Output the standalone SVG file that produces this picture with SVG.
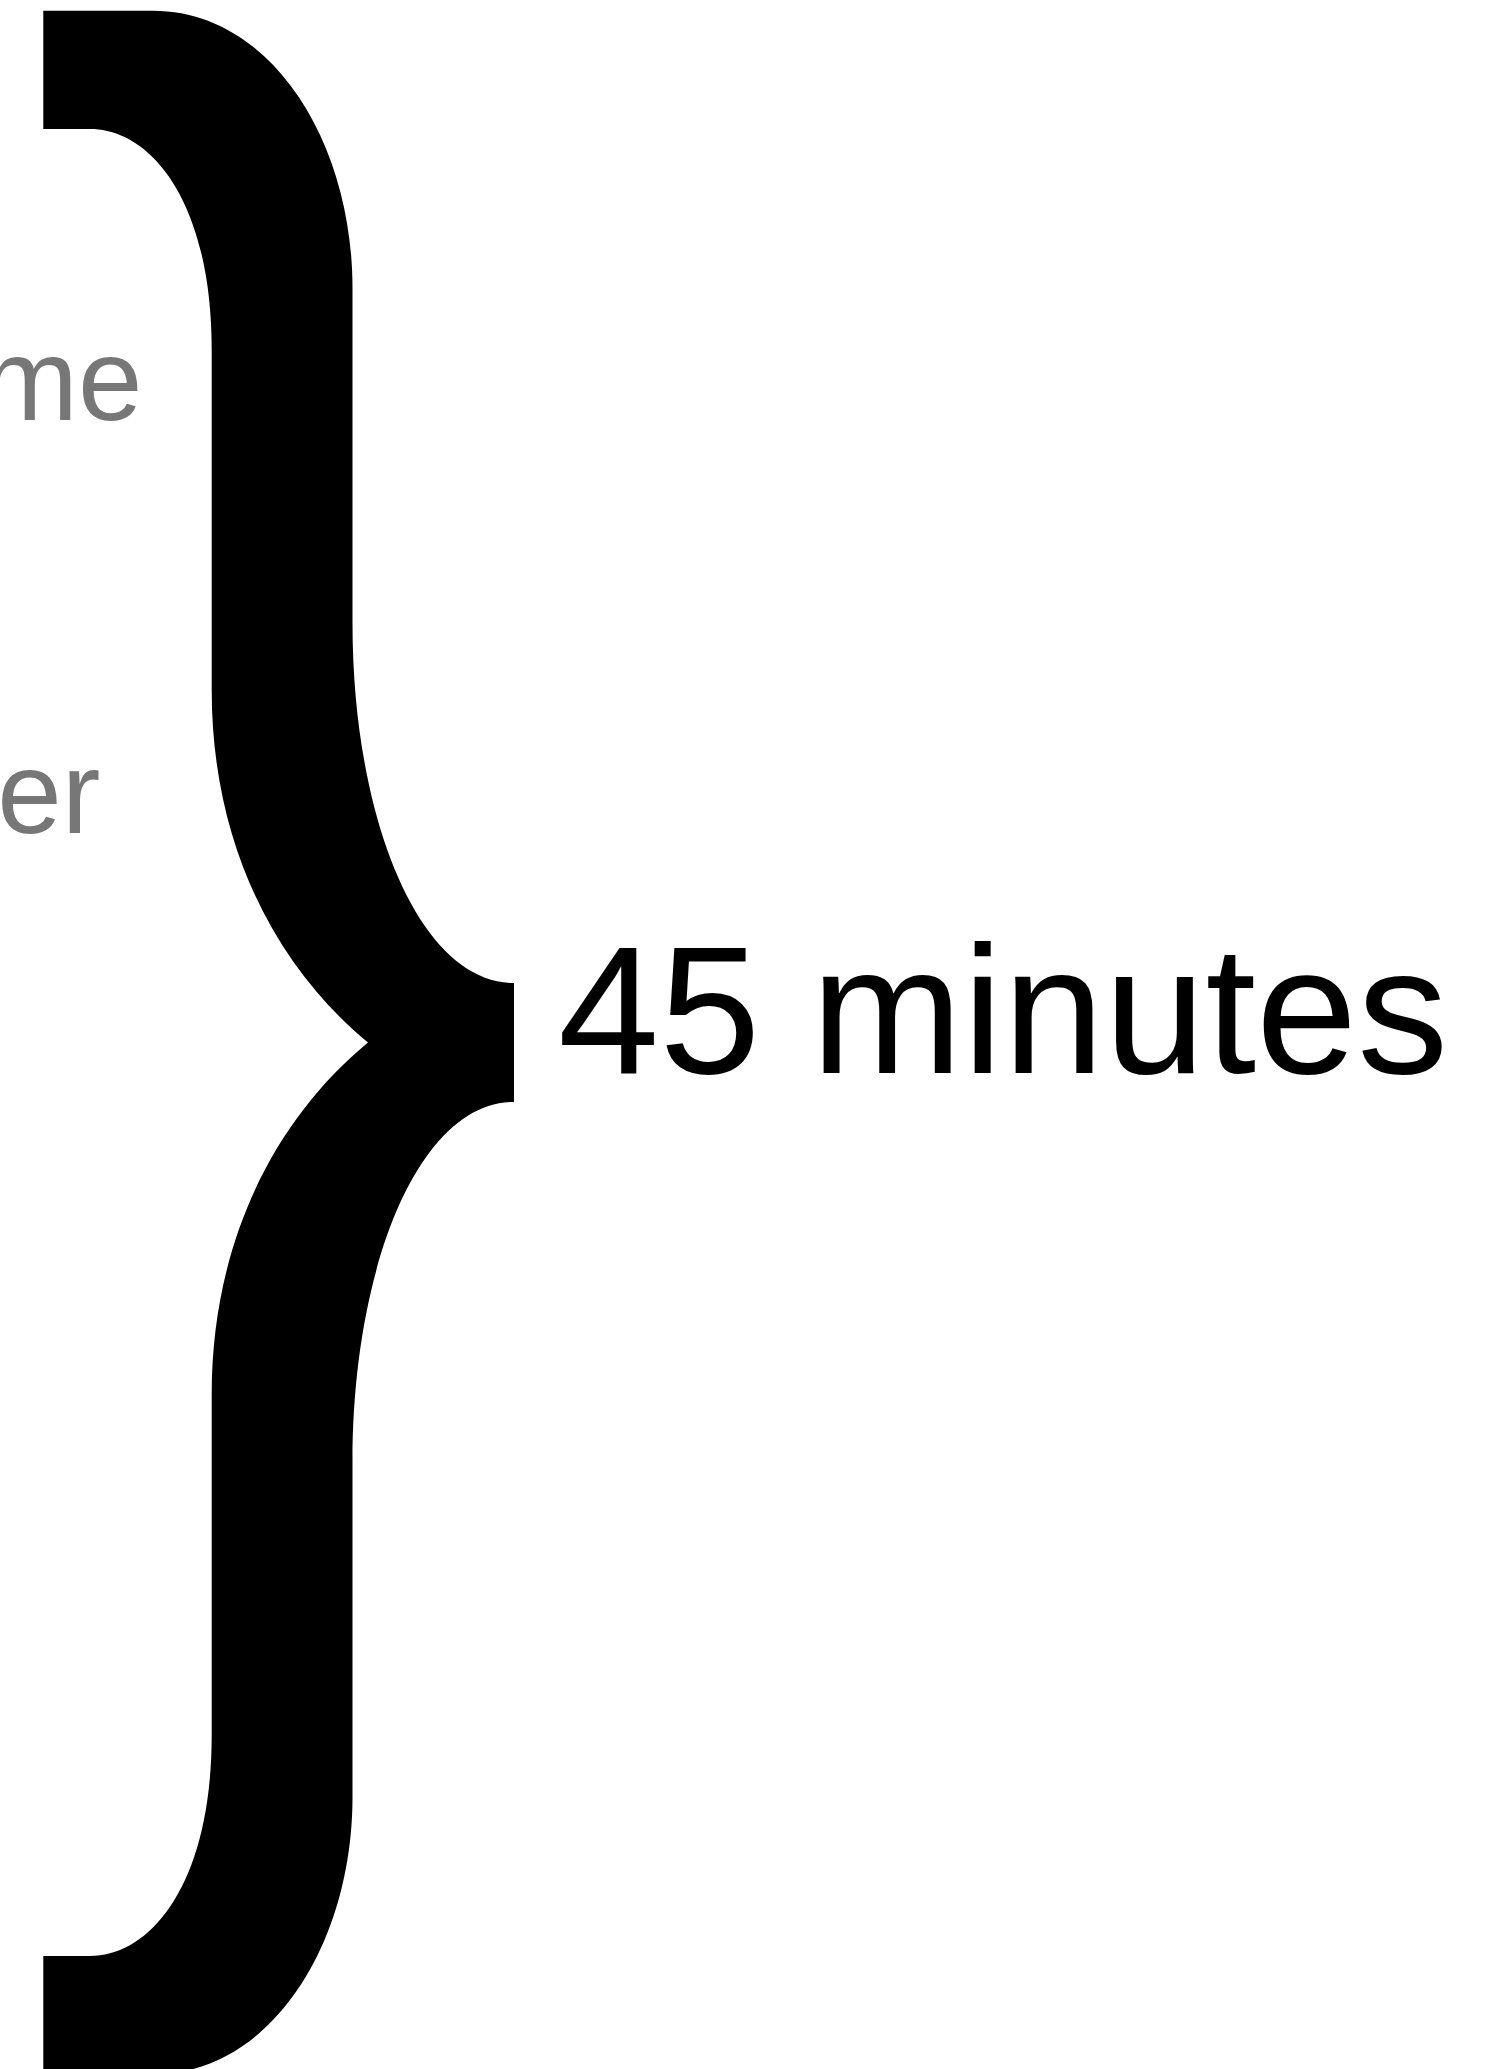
<svg xmlns="http://www.w3.org/2000/svg" width="1492" height="2069" viewBox="0 0 1492 2069">
  <style>
    .gray { font-family: "Liberation Sans", Arial, sans-serif; font-size: 116px; fill: #777777; }
    .label { font-family: "Liberation Sans", Arial, sans-serif; font-size: 182px; fill: #000000; }
  </style>
  <rect x="0" y="0" width="1492" height="2069" fill="#ffffff"/>
  <g id="brace">
    <path fill="#000000" d="M 43.3 10.7 H 153 C 270 10.7 352.5 140 352.5 288 V 623 C 352.5 820 420 983 514 983 V 1102 C 420 1102 352.5 1265 352.5 1462 V 1797 C 352.5 1945 270 2074.3 153 2074.3 H 43.3 V 1956 H 90 C 150 1956 211.7 1885 211.7 1735 V 1395 C 211.7 1235 280 1115 368 1042.5 C 280 970 211.7 850 211.7 690 V 350 C 211.7 200 150 129 90 129 H 43.3 Z"/>
  </g>
  <g id="text-me">
    <text class="gray" x="142.5" y="420" text-anchor="end">me</text>
  </g>
  <g id="text-er">
    <text class="gray" x="100.5" y="833" text-anchor="end">er</text>
  </g>
  <g id="label-45-minutes">
    <text class="label" x="558" y="1073">45 minutes</text>
  </g>
</svg>
